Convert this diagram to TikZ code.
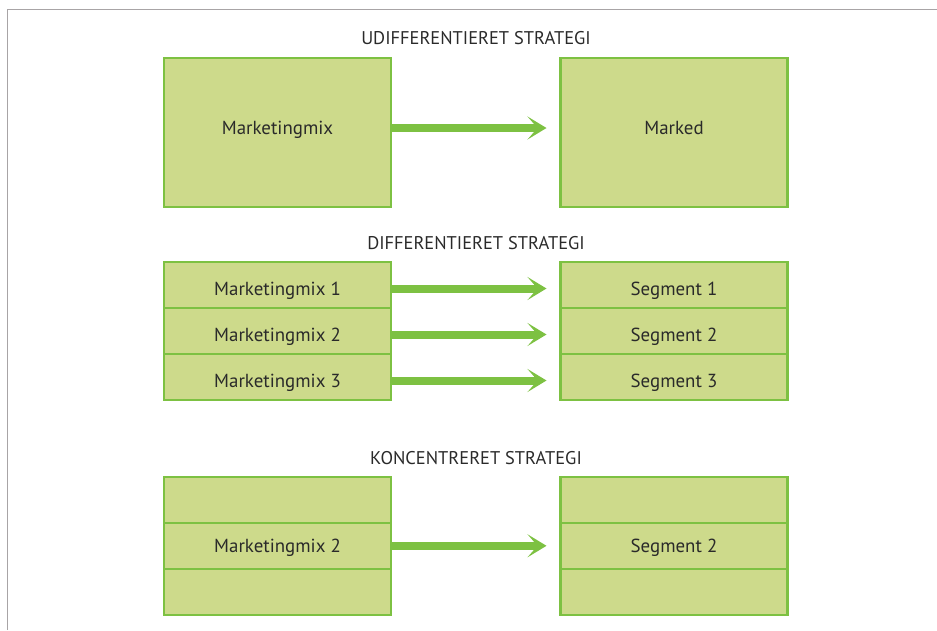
\documentclass[tikz,border=0pt]{standalone}
\usepackage{fontspec}
\setmainfont{PT Sans}
\usetikzlibrary{arrows.meta}
\definecolor{boxfill}{HTML}{CDDA8B}
\definecolor{boxline}{HTML}{7DC142}
\definecolor{framegray}{HTML}{A8A4A6}
\definecolor{ink}{HTML}{2A2A2A}
\begin{document}
\begin{tikzpicture}[x=1pt,y=-1pt,
  panel/.style={draw=boxline,fill=boxfill,line width=2.4pt,minimum width=227pt,inner sep=0pt,outer sep=0pt},
  rowbox/.style={panel,minimum height=46pt},
  txt/.style={text=ink,font=\fontsize{18.9}{21}\selectfont,anchor=base,inner sep=0pt},
  heading/.style={text=ink,font=\fontsize{18.4}{20}\selectfont,anchor=base,inner sep=0pt},
  flow/.style={draw=boxline,line width=8pt,-{Stealth[length=19pt,width=23pt,inset=10pt]},shorten >=14pt,shorten <=1.2pt}
]
\useasboundingbox (0,0) rectangle (937,630);
% page frame
\draw[framegray,line width=1.5pt] (7.5,630) -- (7.5,9.5) -- (937,9.5);

% undifferentiated strategy
\node[heading] (h1) at (476,44.7) {UDIFFERENTIERET STRATEGI};
\node[panel,minimum height=149pt] (mix) at (277.5,132.5) {};
\node[panel,minimum height=149pt] (mkt) at (674,132.5) {};
\node[txt] (tmix) at (277.5,134) {Marketingmix};
\node[txt] (tmkt) at (674,134) {Marked};
\draw[flow] ([yshift=6pt]tmix.base -| mix.east) -- ([yshift=6pt]tmix.base -| mkt.west);

% differentiated strategy
\node[heading] (h2) at (476,249.5) {DIFFERENTIERET STRATEGI};
\foreach \i/\y/\b in {1/285/295,2/331/341,3/377/387}{
  \node[rowbox] (m\i) at (277.5,\y) {};
  \node[rowbox] (s\i) at (674,\y) {};
  \node[txt] (tm\i) at (277.5,\b) {Marketingmix \i};
  \node[txt] (ts\i) at (674,\b) {Segment \i};
  \draw[flow] ([yshift=6.5pt]tm\i.base -| m\i.east) -- ([yshift=6.5pt]tm\i.base -| s\i.west);
}

% concentrated strategy
\node[heading] (h3) at (476,464.7) {KONCENTRERET STRATEGI};
\node[rowbox] (c1) at (277.5,500) {};
\node[rowbox] (c2) at (277.5,546) {};
\node[rowbox] (c3) at (277.5,592) {};
\node[rowbox] (g1) at (674,500) {};
\node[rowbox] (g2) at (674,546) {};
\node[rowbox] (g3) at (674,592) {};
\node[txt] (tc2) at (277.5,552.3) {Marketingmix 2};
\node[txt] (tg2) at (674,552.3) {Segment 2};
\draw[flow] ([yshift=6.5pt]tc2.base -| c2.east) -- ([yshift=6.5pt]tc2.base -| g2.west);
\end{tikzpicture}
\end{document}
